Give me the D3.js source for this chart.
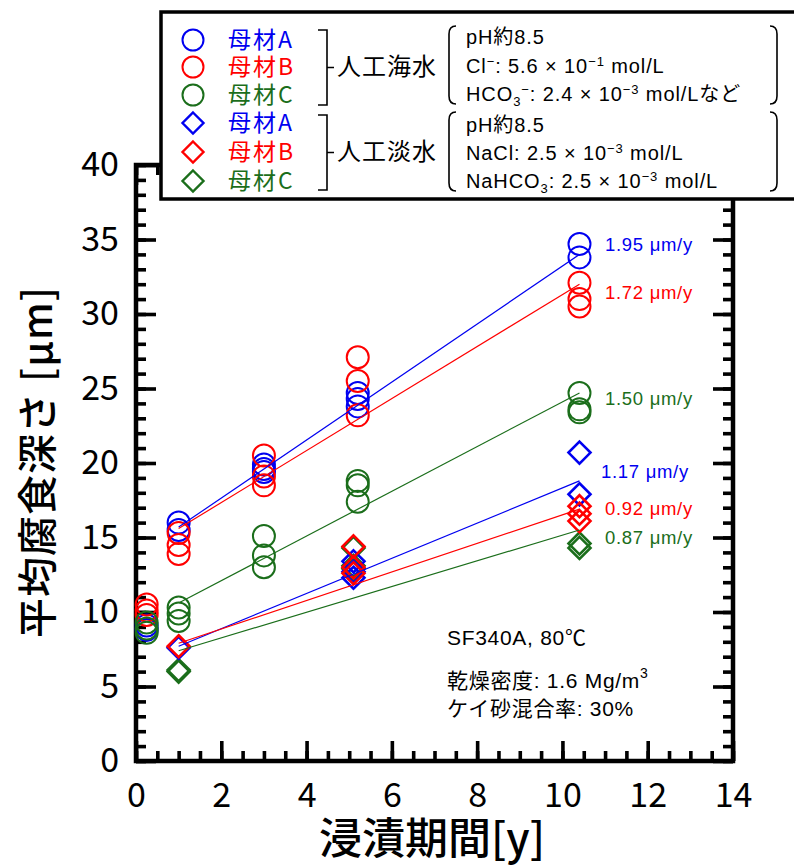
<!DOCTYPE html>
<html>
<head>
<meta charset="utf-8">
<script src="https://cdn.jsdelivr.net/npm/d3@7"></script>
<style>
  body { margin: 0; background: #fff; }
  svg text { font-family: "Liberation Sans", "Noto Sans CJK JP", sans-serif; }
</style>
</head>
<body>
<div id="chart"></div>
<script>
// immersion time [y], mean corrosion depth [um]
const seaA   = [[0.25, 9.1], [0.25, 8.8], [1, 16.0], [1, 15.5], [3, 19.9], [3, 19.6], [3, 19.4],
                [5.2, 24.7], [5.2, 24.3], [5.2, 23.8], [10.4, 34.7], [10.4, 33.8]];
const seaB   = [[0.25, 10.5], [0.25, 10.1], [0.25, 9.8], [1, 15.3], [1, 14.5], [1, 13.9],
                [3, 20.5], [3, 19.1], [3, 18.5], [5.2, 27.1], [5.2, 25.5], [5.2, 23.2],
                [10.4, 32.1], [10.4, 31.0], [10.4, 30.5]];
const seaC   = [[0.25, 9.3], [0.25, 8.9], [0.25, 8.6], [1, 10.3], [1, 9.9], [1, 9.4],
                [3, 15.1], [3, 13.8], [3, 13.0], [5.2, 18.8], [5.2, 18.5], [5.2, 17.4],
                [10.4, 24.7], [10.4, 23.6], [10.4, 23.4]];
const freshA = [[1, 7.6], [5.1, 13.4], [5.1, 12.7], [5.1, 12.3], [10.4, 20.7], [10.4, 17.9]];
const freshB = [[1, 7.7], [5.1, 14.4], [5.1, 13.0], [5.1, 12.6], [10.4, 17.1], [10.4, 16.6], [10.4, 16.1]];
const freshC = [[1, 6.0], [1, 6.1], [5.1, 14.3], [5.1, 13.1], [5.1, 12.9], [10.4, 14.6], [10.4, 14.3]];

// fitted lines, read at both ends
const fitT        = [1, 10.4];
const fitSeaA     = [15.7, 34.0];
const fitSeaB     = [15.6, 32.0];
const fitSeaC     = [10.6, 24.7];
const fitFreshA   = [7.7, 18.8];
const fitFreshB   = [7.9, 16.9];
const fitFreshC   = [7.4, 15.5];
const rateLabels  = ['1.95 μm/y', '1.72 μm/y', '1.50 μm/y', '1.17 μm/y', '0.92 μm/y', '0.87 μm/y'];

const xTicks = [0, 2, 4, 6, 8, 10, 12, 14];
const yTicks = [0, 5, 10, 15, 20, 25, 30, 35, 40];
const materials = ['母材A', '母材B', '母材C'];

const BLUE = '#0000f0', RED = '#ff0000', GREEN = '#1b6e1b';
const colors = [BLUE, RED, GREEN];

const width = 794, height = 865;
const plot = {left: 136, right: 733, top: 165, bottom: 761};
const jp = '"Noto Sans CJK JP", sans-serif';

const svg = d3.select('#chart').append('svg')
  .attr('width', width)
  .attr('height', height);

const x = d3.scaleLinear().domain([0, 14]).range([plot.left, plot.right]);
const y = d3.scaleLinear().domain([0, 40]).range([plot.bottom, plot.top]);

// ticks point inwards on all four sides; minor and major in their own groups
function drawAxis(axisFn, scale, transform, major, minor, padding) {
  const gMinor = svg.append('g').attr('transform', transform)
    .call(axisFn(scale).tickValues(minor).tickSize(-10));
  const gMajor = svg.append('g').attr('transform', transform)
    .call(axisFn(scale).tickValues(major).tickSize(-20).tickPadding(padding).tickFormat(d3.format('d')));
  [gMinor, gMajor].forEach(g => {
    g.select('.domain').remove();
    g.selectAll('.tick line').attr('stroke', '#000').attr('stroke-width', 3.6);
  });
  gMinor.selectAll('text').remove();
  if (!padding) gMajor.selectAll('text').remove();
  gMajor.selectAll('text')
    .style('font-family', jp)
    .style('font-size', '34px')
    .attr('fill', '#000');
}

const xMinor = d3.range(0, 14.01, 0.5);
const yMinor = d3.range(0, 40.01, 1);
drawAxis(d3.axisBottom, x, `translate(0,${plot.bottom})`, xTicks, xMinor, 22);
drawAxis(d3.axisTop,    x, `translate(0,${plot.top})`,    xTicks, xMinor, 0);
drawAxis(d3.axisLeft,   y, `translate(${plot.left},0)`,   yTicks, yMinor, 17);
drawAxis(d3.axisRight,  y, `translate(${plot.right},0)`,  yTicks, yMinor, 0);

svg.append('rect')
  .attr('x', plot.left).attr('y', plot.top)
  .attr('width', plot.right - plot.left).attr('height', plot.bottom - plot.top)
  .attr('fill', 'none').attr('stroke', '#000').attr('stroke-width', 4.5);

// axis titles
svg.append('text')
  .attr('transform', `translate(52, 462) rotate(-90)`)
  .style('font-family', jp)
  .style('font-size', '40px')
  .style('font-weight', 500)
  .style('letter-spacing', '1px')
  .attr('text-anchor', 'middle')
  .text('平均腐食深さ [μm]');

svg.append('text')
  .attr('x', 432)
  .attr('y', 854)
  .style('font-family', jp)
  .style('font-size', '43px')
  .style('font-weight', 500)
  .attr('text-anchor', 'middle')
  .text('浸漬期間[y]');

function diamond(cx, cy, r) {
  return `M${cx},${cy - r}L${cx + r},${cy}L${cx},${cy + r}L${cx - r},${cy}Z`;
}

// markers
const seaSeries   = [seaA, seaB, seaC];
const freshSeries = [freshA, freshB, freshC];

seaSeries.forEach((pts, i) => {
  svg.append('g').selectAll('circle')
    .data(pts).enter().append('circle')
    .attr('cx', d => x(d[0]))
    .attr('cy', d => y(d[1]))
    .attr('r', 11)
    .attr('fill', 'none')
    .attr('stroke', colors[i])
    .attr('stroke-width', 2);
});

[2, 0, 1].forEach(i => {
  svg.append('g').selectAll('path')
    .data(freshSeries[i]).enter().append('path')
    .attr('d', d => diamond(x(d[0]), y(d[1]), 11))
    .attr('fill', 'none')
    .attr('stroke', colors[i])
    .attr('stroke-width', 2.6);
});

// fitted lines
const fits = [fitSeaA, fitSeaB, fitSeaC, fitFreshA, fitFreshB, fitFreshC];
fits.forEach((f, i) => {
  svg.append('line')
    .attr('x1', x(fitT[0])).attr('y1', y(f[0]))
    .attr('x2', x(fitT[1])).attr('y2', y(f[1]))
    .attr('stroke', colors[i % 3])
    .attr('stroke-width', 1.2);
});

// rate labels
const rateY = [34.6, 31.4, 24.3, 19.4, 16.9, 15.0];
rateLabels.forEach((t, i) => {
  svg.append('text')
    .attr('x', i === 3 ? 601 : 605)
    .attr('y', y(rateY[i]) + 6)
    .attr('fill', colors[i % 3])
    .style('font-size', '18.5px')
    .style('letter-spacing', '0.7px')
    .text(t);
});

// condition notes
const notes = svg.append('g').style('font-size', '21px').style('letter-spacing', '0.7px').attr('fill', '#000');
notes.append('text').attr('x', 447).attr('y', 645).text('SF340A, 80℃');
const dens = notes.append('text').attr('x', 447).attr('y', 688);
dens.append('tspan').text('乾燥密度: 1.6 Mg/m');
dens.append('tspan').attr('dy', -10).style('font-size', '14px').text('3');
notes.append('text').attr('x', 447).attr('y', 716).text('ケイ砂混合率: 30%');

// legend box
const lg = svg.append('g');
lg.append('rect')
  .attr('x', 161).attr('y', 12)
  .attr('width', 660).attr('height', 187)
  .attr('fill', '#fff').attr('stroke', '#000').attr('stroke-width', 3.5);

const rowY = [40, 67, 95, 123, 152, 181];
rowY.forEach((ry, i) => {
  const c = colors[i % 3];
  if (i < 3) {
    lg.append('circle').attr('cx', 193).attr('cy', ry).attr('r', 10.5)
      .attr('fill', 'none').attr('stroke', c).attr('stroke-width', 2);
  } else {
    lg.append('path').attr('d', diamond(193, ry, 10.5))
      .attr('fill', 'none').attr('stroke', c).attr('stroke-width', 2.4);
  }
  lg.append('text')
    .attr('x', 228).attr('y', ry + 8)
    .attr('fill', c)
    .style('font-family', jp)
    .style('font-size', '23px')
    .style('letter-spacing', '2px')
    .text(materials[i % 3]);
});

function bracket(top, bottom) {
  const mid = (top + bottom) / 2;
  lg.append('path')
    .attr('d', `M318,${top}L327,${top}L327,${bottom}L318,${bottom}M327,${mid}L334,${mid}`)
    .attr('fill', 'none').attr('stroke', '#000').attr('stroke-width', 1.6);
}
function parens(top, bottom) {
  lg.append('path')
    .attr('d', `M456,${top}Q449,${top} 449,${top + 8}L449,${bottom - 8}Q449,${bottom} 456,${bottom}` +
               `M770,${top}Q777,${top} 777,${top + 8}L777,${bottom - 8}Q777,${bottom} 770,${bottom}`)
    .attr('fill', 'none').attr('stroke', '#000').attr('stroke-width', 1.6);
}
bracket(30, 105);
bracket(115, 190);
parens(26, 104);
parens(112, 191);

lg.append('text').attr('x', 337).attr('y', 75)
  .style('font-family', jp).style('font-size', '24px').style('letter-spacing', '1px').text('人工海水');
lg.append('text').attr('x', 337).attr('y', 160)
  .style('font-family', jp).style('font-size', '24px').style('letter-spacing', '1px').text('人工淡水');

// chemistry lines: arrays of [text, shift]
const chemSea = [
  [['pH約8.5', 0]],
  [['Cl', 0], ['−', -7], [': 5.6 × 10', 0], ['−1', -7], [' mol/L', 0]],
  [['HCO', 0], ['3', 5], ['−', -7], [': 2.4 × 10', 0], ['−3', -7], [' mol/Lなど', 0]]
];
const chemFresh = [
  [['pH約8.5', 0]],
  [['NaCl: 2.5 × 10', 0], ['−3', -7], [' mol/L', 0]],
  [['NaHCO', 0], ['3', 5], [': 2.5 × 10', 0], ['−3', -7], [' mol/L', 0]]
];
const chemBase = [44, 73, 101, 132, 160, 188];
chemSea.concat(chemFresh).forEach((parts, i) => {
  const t = lg.append('text').attr('x', 466).attr('y', chemBase[i])
    .style('font-size', '20px').style('letter-spacing', '0.9px');
  let prev = 0;
  parts.forEach(([s, shift]) => {
    t.append('tspan')
      .attr('dy', shift - prev)
      .style('font-size', shift === 0 ? '20px' : '13px')
      .text(s);
    prev = shift;
  });
});
</script>
</body>
</html>
